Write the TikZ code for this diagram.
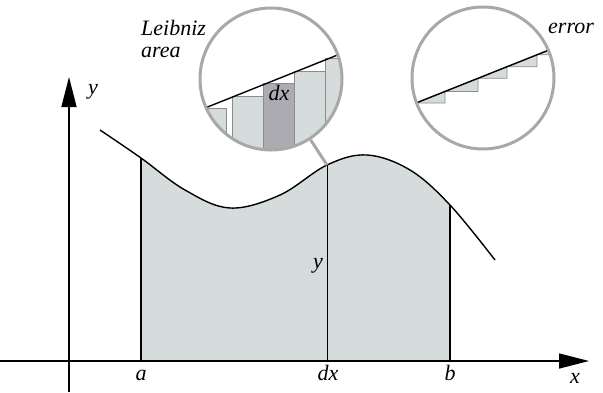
\documentclass[tikz,border=0pt]{standalone}
\usepackage{fontspec}
\setmainfont{Liberation Serif}
\newfontfamily\lblfont{Liberation Serif}
\usetikzlibrary{arrows.meta}

\definecolor{areagray}{RGB}{214,220,220}
\definecolor{stripgray}{RGB}{172,171,178}
\definecolor{lensgray}{RGB}{168,168,168}
\definecolor{edgegray}{RGB}{140,140,140}

\tikzset{
  lbl/.style={font=\lblfont\fontsize{22}{19}\selectfont\itshape, inner sep=0pt},
  lens/.style={circle, draw=lensgray, line width=3pt, minimum size=142pt, inner sep=0pt},
  axis/.style={line width=1.4pt, -{Triangle[length=30pt,width=15pt]}},
  bar/.style={fill=areagray, draw=edgegray, line width=0.8pt},
  handle/.style={lensgray, line width=3pt},
}

\begin{document}
\begin{tikzpicture}[x=1pt,y=-1pt]
    \useasboundingbox (0,0) rectangle (603,392);

    % area under the curve
    \begin{scope}
        \clip (141,0) rectangle (450,361);
        \fill [areagray] plot[smooth,tension=0.6] coordinates {(100,130) (141,158) (185,190) (230,208) (280,195) (327,165) (367,155) (410,170) (450,205) (495,260)} -- (495,361) -- (100,361) -- cycle;
    \end{scope}
    \draw [line width=1.4pt] plot[smooth,tension=0.6] coordinates {(100,130) (141,158) (185,190) (230,208) (280,195) (327,165) (367,155) (410,170) (450,205) (495,260)};

    \coordinate (A) at (141,158);
    \coordinate (top) at (327,165);
    \coordinate (B) at (450,205);
    \draw [line width=1.6pt] (141,361) -- (A);
    \draw [line width=0.9pt] (327,361) -- (top);
    \draw [line width=1.6pt] (450,361) -- (B);

    % axes
    \draw [axis] (0,361) -- (589,361);
    \draw [axis] (69,392) -- (69,77);
    \node[lbl, anchor=base] (ylab) at (93,94) {y};
    \node[lbl, anchor=base] (xlab) at (575,383) {x};
    \node[lbl, anchor=base] (alab) at (141,380) {a};
    \node[lbl, anchor=base] (dxlab) at (328,380) {dx};
    \node[lbl, anchor=base] (blab) at (450,380) {b};
    \node[lbl, anchor=base] (ymid) at (318,268) {y};

    % left lens: Leibniz strips
    \begin{scope}
        \clip (271,79) circle (70pt);
        \foreach \xl/\yt in {195/108,232/96,263/83.5,294/71,325/58.5} {
            \draw [bar] (\xl,\yt) rectangle ++(31,120);
        }
        \draw [bar, fill=stripgray] (263,83.5) rectangle ++(31,120);
        \draw [line width=1.4pt] (190,114) -- (350,50);
    \end{scope}
    \node[lbl, anchor=base] (dxin) at (279,100) {dx};
    \node[lens] (lensL) at (271,79) {};
    \draw [handle] (lensL) -- (top);
    \node[lbl, anchor=base west] (leib) at (141,35) {Leibniz};
    \node[lbl, anchor=base west] (area) at (141,57) {area};

    % right lens: error
    \begin{scope}
        \clip (483,78) circle (70pt);
        \foreach \xa/\xb in {416/445,445/478,478/507,507/537,537/566} {
            \fill [bar] (\xa,{103-0.398*(\xa-416)}) -- (\xb,{103-0.398*(\xa-416)}) -- (\xb,{103-0.398*(\xb-416)}) -- cycle;
        }
        \draw [line width=1.4pt] (400,109.4) -- (560,45.6);
    \end{scope}
    \node[lens] (lensR) at (483,78) {};
    \node[lbl, anchor=base west] (err) at (548,33) {error};

\end{tikzpicture}
\end{document}
